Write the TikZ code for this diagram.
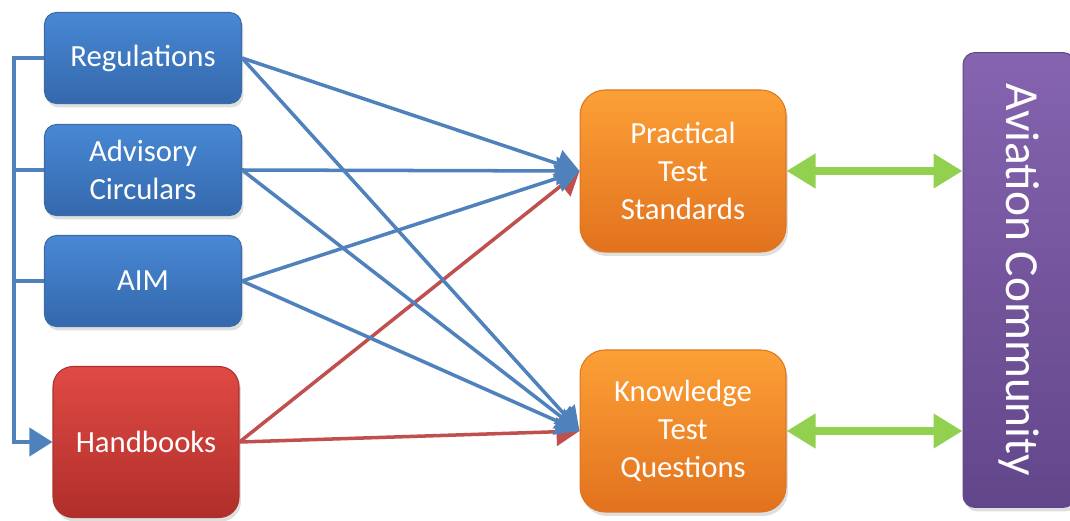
\documentclass[tikz,border=0pt]{standalone}
\usepackage{fontspec}
\setmainfont{Carlito}
\usepackage{tikz}
\usetikzlibrary{arrows.meta,shadows}

\definecolor{srcline}{RGB}{79,129,189}
\definecolor{hbline}{RGB}{192,80,77}
\definecolor{commline}{RGB}{146,208,80}

\begin{document}
\begin{tikzpicture}[x=0.02cm,y=-0.02cm,semithick,
  srcbox/.style={rectangle,rounded corners=0.24cm,draw={rgb,255:red,60;green,108;blue,168},
    top color={rgb,255:red,72;green,136;blue,212},bottom color={rgb,255:red,52;green,104;blue,172},
    minimum width=3.94cm,minimum height=1.82cm,text=white,align=center,
    font=\fontsize{17.5pt}{21.6pt}\selectfont,
    drop shadow={opacity=0.25,shadow xshift=0.4mm,shadow yshift=-0.8mm}},
  hbbox/.style={srcbox,rounded corners=0.4cm,draw={rgb,255:red,170;green,50;blue,46},
    top color={rgb,255:red,224;green,74;blue,68},bottom color={rgb,255:red,176;green,46;blue,42},
    minimum width=3.72cm,minimum height=3.02cm},
  testbox/.style={srcbox,rounded corners=0.5cm,draw={rgb,255:red,220;green,118;blue,34},
    top color={rgb,255:red,252;green,160;blue,54},bottom color={rgb,255:red,226;green,114;blue,30},
    minimum width=4.12cm,minimum height=3.24cm},
  commbox/.style={srcbox,rounded corners=0.24cm,draw={rgb,255:red,96;green,70;blue,136},
    top color={rgb,255:red,134;green,100;blue,176},bottom color={rgb,255:red,98;green,70;blue,138},
    minimum width=9.1cm,minimum height=2.24cm,font=\fontsize{27pt}{32pt}\selectfont},
  feed/.style={draw=srcline,line width=2pt,-{Triangle[length=0.46cm,width=0.56cm]}},
  trunk/.style={draw=srcline,line width=2.2pt},
  hbfeed/.style={feed,draw=hbline},
  link/.style={draw=commline,line width=4.6pt,{Triangle[length=0.58cm,width=0.66cm]}-{Triangle[length=0.58cm,width=0.66cm]}}]

  \useasboundingbox (0,0) rectangle (1070,520);
  \clip (0,0) rectangle (1070,520);

  \node[srcbox] (reg) at (143,58) {Regulations};
  \node[srcbox] (ac) at (143,170) {Advisory\\Circulars};
  \node[srcbox] (aim) at (143,281) {AIM};
  \node[hbbox] (hb) at (146,442) {Handbooks};

  \node[testbox] (pts) at (683,171) {Practical\\Test\\Standards};
  \node[testbox] (ktq) at (683,431) {Knowledge\\Test\\Questions};

  \node[commbox,rotate=-90] (avc) at (1019,280) {Aviation Community};

  \draw[trunk] (ac.west) -- ++(-30,0);
  \draw[trunk] (aim.west) -- ++(-30,0);
  \draw[feed,line width=2.2pt] (reg.west) -- ++(-30,0) |- (hb.west);

  \draw[hbfeed] (hb.east) -- (pts.west);
  \draw[hbfeed] (hb.east) -- (ktq.west);

  \foreach \s in {reg,ac,aim} {
    \draw[feed] (\s.east) -- (pts.west);
    \draw[feed] (\s.east) -- (ktq.west);
  }

  \draw[link] (pts.east) -- (pts.east -| avc.south);
  \draw[link] (ktq.east) -- (ktq.east -| avc.south);

\end{tikzpicture}
\end{document}
